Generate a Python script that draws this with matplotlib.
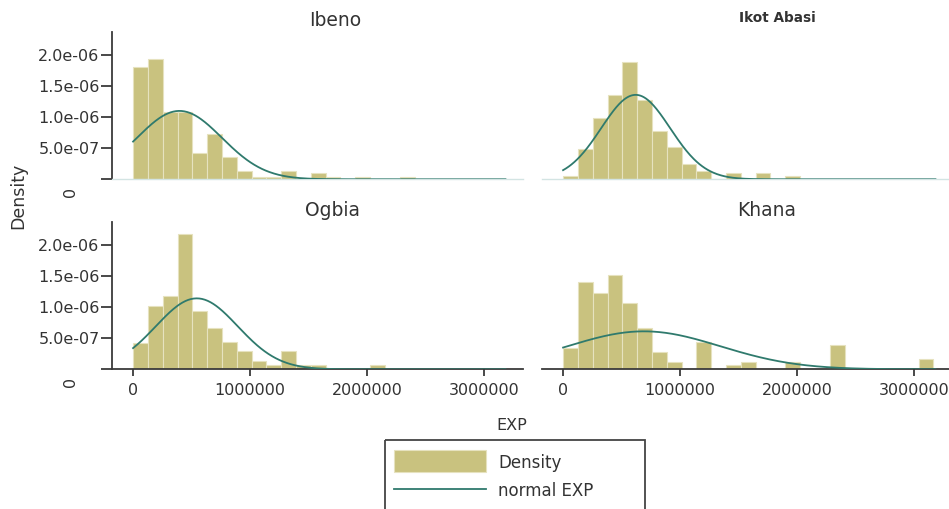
import numpy as np
import matplotlib
matplotlib.use("Agg")
import matplotlib.pyplot as plt
from matplotlib.patches import Rectangle
from matplotlib.lines import Line2D

# ---------------- data ----------------
panels = ["Ibeno", "Ikot Abasi", "Ogbia", "Khana"]
bin_start = 0
bin_width = 126500
# histogram densities (x 1e-6) per bin, bins of width bin_width starting at 0
ibeno_density = [1.80, 1.94, 1.08, 1.08, 0.43, 0.73, 0.36, 0.13, 0.04, 0.04,
                 0.13, 0.0, 0.10, 0.04, 0.0, 0.04, 0.0, 0.0, 0.04]
ikot_density = [0.05, 0.48, 0.98, 1.36, 1.88, 1.27, 0.77, 0.52, 0.24, 0.13,
                0.0, 0.10, 0.0, 0.10, 0.0, 0.05]
ogbia_density = [0.43, 1.02, 1.17, 2.18, 0.94, 0.66, 0.44, 0.29, 0.14, 0.075,
                 0.29, 0.075, 0.075, 0.0, 0.0, 0.0, 0.075]
khana_density = [0.34, 1.40, 1.23, 1.51, 1.06, 0.67, 0.28, 0.11, 0.0, 0.44,
                 0.0, 0.064, 0.11, 0.0, 0.0, 0.11, 0.0, 0.0, 0.39, 0.0,
                 0.0, 0.0, 0.0, 0.0, 0.16]
# fitted normal parameters (mean, sd)
normal_mean = [396000, 620000, 544000, 690000]
normal_sd = [363000, 294000, 350000, 654000]
curve_range = (0, 3180000)

x_ticks = [0, 1000000, 2000000, 3000000]
x_tick_labels = ["0", "1000000", "2000000", "3000000"]
y_ticks = [0, 5e-7, 1e-6, 1.5e-6, 2e-6]
y_tick_labels = ["", "5.0e-07", "1.0e-06", "1.5e-06", "2.0e-06"]

densities = [ibeno_density, ikot_density, ogbia_density, khana_density]

# ---------------- style ----------------
W, H = 949, 509
bar_color = "#c9c27f"
bar_edge = "#e6e2bf"
line_color = "#2f7a6d"
axis_color = "#3a3a3a"
faint_axis = "#d3e4e3"
text_color = "#333333"
tick_fs = 11.5
plt.rcParams["font.family"] = ["DejaVu Sans"]

fig = plt.figure(figsize=(W / 100, H / 100), dpi=100)


def fx(px):
    return px / W


def fy(py):
    return 1 - py / H


ax_w = 411
ax_h = 147.5
positions = {
    0: (112, 179.3),
    1: (542, 179.3),
    2: (112, 369.3),
    3: (542, 369.3),
}
title_pos = {
    0: (335, 21, 13.5, "normal"),
    1: (777, 18, 9.8, "bold"),
    2: (333, 210, 13.5, "normal"),
    3: (767, 210, 13.5, "normal"),
}

xs = np.linspace(curve_range[0], curve_range[1], 400)

for i, name in enumerate(panels):
    left, base = positions[i]
    ax = fig.add_axes([fx(left), fy(base), fx(ax_w), ax_h / H])
    d = np.array(densities[i]) * 1e-6
    edges = bin_start + bin_width * np.arange(len(d))
    ax.bar(edges, d, width=bin_width, align="edge", color=bar_color,
           edgecolor=bar_edge, linewidth=0.8, zorder=2)
    mu, sd = normal_mean[i], normal_sd[i]
    ys = np.exp(-0.5 * ((xs - mu) / sd) ** 2) / (sd * np.sqrt(2 * np.pi))
    ax.plot(xs, ys, color=line_color, lw=1.3, zorder=3)
    ax.set_xlim(-180000, 3330000)
    ax.set_ylim(0, 2.37e-6)
    for s in ["top", "right"]:
        ax.spines[s].set_visible(False)
    top_row = i < 2
    left_col = i % 2 == 0
    if top_row:
        ax.spines["bottom"].set_color(faint_axis)
        ax.spines["bottom"].set_linewidth(1.0)
        ax.set_xticks([])
    else:
        ax.spines["bottom"].set_color(axis_color)
        ax.spines["bottom"].set_linewidth(1.3)
        ax.set_xticks(x_ticks)
        ax.set_xticklabels(x_tick_labels, fontsize=tick_fs, color=text_color)
        ax.tick_params(axis="x", length=5, width=1.3, color=axis_color, pad=5)
    if left_col:
        ax.spines["left"].set_color(axis_color)
        ax.spines["left"].set_linewidth(1.3)
        ax.set_yticks(y_ticks)
        ax.set_yticklabels(y_tick_labels, fontsize=tick_fs, color=text_color)
        ax.tick_params(axis="y", length=8, width=1.3, color=axis_color, pad=1)
        fig.text(fx(70), fy(base + 13), "0", rotation=90, ha="center",
                 va="center", fontsize=tick_fs, color=text_color)
    else:
        ax.spines["left"].set_visible(False)
        ax.set_yticks([])
    ax.patch.set_alpha(0)
    tx, ty, tsize, tw = title_pos[i]
    fig.text(fx(tx), fy(ty), name, ha="center", va="center", fontsize=tsize,
             fontweight=tw, color=text_color)

fig.text(fx(18), fy(196), "Density", rotation=90, ha="center", va="center",
         fontsize=12.5, color=text_color)
fig.text(fx(512), fy(425), "EXP", ha="center", va="center", fontsize=11.5,
         color=text_color)

# legend
lax = fig.add_axes([0, 0, 1, 1])
lax.set_xlim(0, W)
lax.set_ylim(H, 0)
lax.axis("off")
lax.add_patch(Rectangle((385, 440), 260, 80, fill=False, edgecolor="#444444",
                        linewidth=1.3))
lax.add_patch(Rectangle((394, 450), 92, 22, facecolor=bar_color,
                        edgecolor=bar_edge, linewidth=0.8))
lax.add_line(Line2D([394, 486], [489, 489], color=line_color, lw=1.3))
lax.text(498, 463, "Density", ha="left", va="center", fontsize=12,
         color=text_color)
lax.text(498, 491, "normal EXP", ha="left", va="center", fontsize=12,
         color=text_color)

fig.savefig("out.png", dpi=100, facecolor="white")
